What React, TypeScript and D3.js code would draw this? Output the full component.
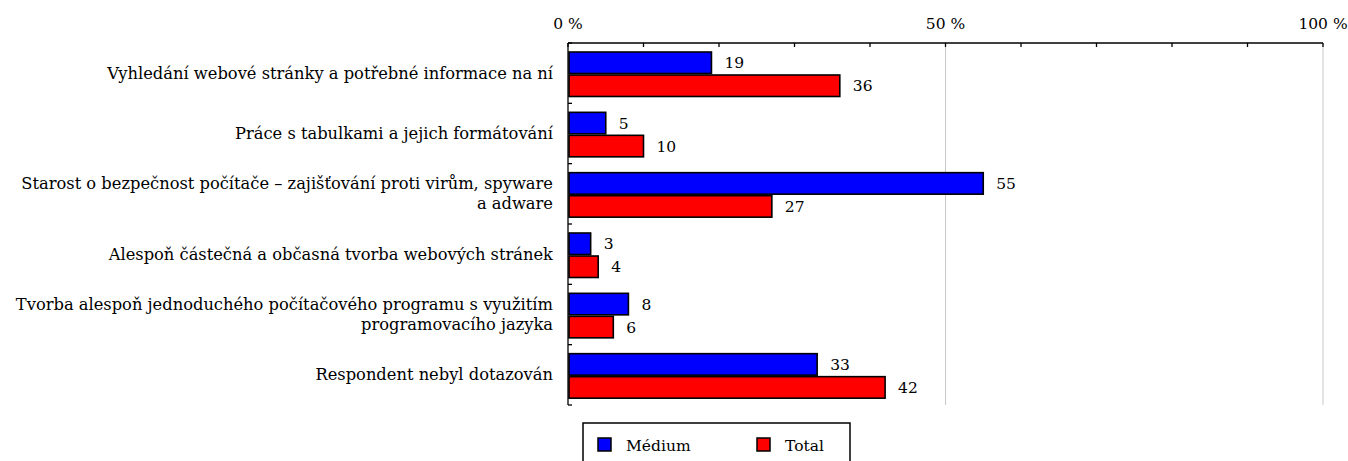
import React from "react";
import * as d3 from "d3";

const categories: string[][] = [
  ["Vyhledání webové stránky a potřebné informace na ní"],
  ["Práce s tabulkami a jejich formátování"],
  ["Starost o bezpečnost počítače – zajišťování proti virům, spyware", "a adware"],
  ["Alespoň částečná a občasná tvorba webových stránek"],
  ["Tvorba alespoň jednoduchého počítačového programu s využitím", "programovacího jazyka"],
  ["Respondent nebyl dotazován"],
];
const medium: number[] = [19, 5, 55, 3, 8, 33];
const total: number[] = [36, 10, 27, 4, 6, 42];
const seriesNames = ["Médium", "Total"];
const seriesColors = ["#0000FF", "#FF0000"];
const majorTicks = [0, 50, 100];
const minorTicks = d3.range(0, 101, 10);

const W = 1348, H = 461;
const left = 568, right = 1323, top = 43, bottom = 405;
const font = "DejaVu Serif";

export default function App() {
  const x = d3.scaleLinear().domain([0, 100]).range([left, right]);
  const y = d3.scaleBand<number>().domain(d3.range(categories.length)).range([top, bottom]);
  const bw = y.bandwidth();
  const barH = 21.5;
  const series = [medium, total];
  return (
    <svg width={W} height={H} style={{ position: "absolute", left: 0, top: 0, background: "#fff" }}>
      {majorTicks.filter(t => t > 0).map(t => (
        <line key={"g" + t} x1={x(t)} x2={x(t)} y1={top} y2={bottom} stroke="#c8c8c8" strokeWidth={1} />
      ))}
      <line x1={left} x2={right} y1={top} y2={top} stroke="#000" strokeWidth={1.3} />
      {minorTicks.map(t => (
        <line key={"t" + t} x1={x(t)} x2={x(t)} y1={top} y2={top + 4} stroke="#000" strokeWidth={1.3} />
      ))}
      {majorTicks.map(t => (
        <text key={"l" + t} x={x(t)} y={top - 14} textAnchor="middle" fontFamily={font} fontSize={15.5} fill="#000">
          {t} %
        </text>
      ))}
      <line x1={left} x2={left} y1={top} y2={bottom} stroke="#000" strokeWidth={1.3} />
      {d3.range(categories.length + 1).map(i => {
        const yy = i < categories.length ? y(i)! : bottom;
        return <line key={"c" + i} x1={left} x2={left + 4} y1={yy} y2={yy} stroke="#000" strokeWidth={1.3} />;
      })}
      {categories.map((cat, i) => {
        const y0 = y(i)!;
        const cy = y0 + bw / 2;
        return (
          <g key={"cat" + i}>
            {series.map((s, k) => {
              const by = y0 + 9 + k * (barH + 1.5);
              return (
                <g key={k}>
                  <rect x={x(0) + 1} y={by} width={x(s[i]) - x(0) - 1} height={barH}
                    fill={seriesColors[k]} stroke="#000" strokeWidth={1.6} />
                  <text x={x(s[i]) + 13} y={by + barH / 2 + 5.5} fontFamily={font} fontSize={15.5} fill="#000">
                    {s[i]}
                  </text>
                </g>
              );
            })}
            {cat.map((line, j) => (
              <text key={j} x={553} y={cy + 5.5 + (j - (cat.length - 1) / 2) * 20} textAnchor="end"
                fontFamily={font} fontSize={16.3} fill="#000">
                {line}
              </text>
            ))}
          </g>
        );
      })}
      <rect x={583} y={423} width={267} height={50} fill="#fff" stroke="#000" strokeWidth={1.5} />
      {seriesNames.map((n, k) => (
        <g key={"lg" + k}>
          <rect x={598 + k * 159} y={438} width={13} height={13} fill={seriesColors[k]} stroke="#000" strokeWidth={1.5} />
          <text x={626 + k * 159} y={451} fontFamily={font} fontSize={15.5} fill="#000">{n}</text>
        </g>
      ))}
    </svg>
  );
}
